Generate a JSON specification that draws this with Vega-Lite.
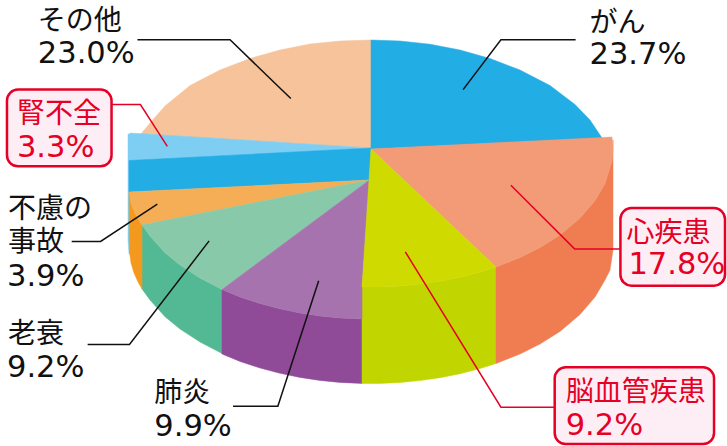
{
"$schema":"https://vega.github.io/schema/vega-lite/v6.json",
"width":727,"height":446,"padding":0,
"autosize":{"type":"fit","contains":"padding"},
"background":"white",
"config":{"view":{"stroke":null}},
"datasets":{
"slices":[
{"name":"腎不全","value":0.033,"pctX":17,"pctY":158,"tone":"highlight"},
{"name":"がん","value":0.237,"pctX":592,"pctY":64,"tone":"normal"},
{"name":"心疾患","value":0.178,"pctX":631,"pctY":275,"tone":"highlight"},
{"name":"脳血管疾患","value":0.092,"pctX":568,"pctY":437,"tone":"highlight"},
{"name":"肺炎","value":0.099,"pctX":155,"pctY":438,"tone":"normal"},
{"name":"老衰","value":0.092,"pctX":7,"pctY":379,"tone":"normal"},
{"name":"不慮の事故","value":0.039,"pctX":7,"pctY":287,"tone":"normal"},
{"name":"その他","value":0.23,"pctX":38,"pctY":63,"tone":"normal"}
],
"names":[
{"name":"腎不全","x":17,"y":124,"tone":"highlight"},
{"name":"がん","x":592,"y":32,"tone":"normal"},
{"name":"心疾患","x":629,"y":243,"tone":"highlight"},
{"name":"脳血管疾患","x":568,"y":403,"tone":"highlight"},
{"name":"肺炎","x":155,"y":404,"tone":"normal"},
{"name":"老衰","x":8,"y":345,"tone":"normal"},
{"name":"不慮の","x":8,"y":219,"tone":"normal"},
{"name":"事故","x":8,"y":252,"tone":"normal"},
{"name":"その他","x":38,"y":30,"tone":"normal"}
],
"boxes":[
{"name":"腎不全","x":7,"x2":112,"y":90,"y2":167},
{"name":"心疾患","x":623,"x2":728,"y":209,"y2":287},
{"name":"脳血管疾患","x":557,"x2":717,"y":369,"y2":446}
],
"leaders":[
{"name":"その他","i":0,"x":138,"y":40,"tone":"normal"},{"name":"その他","i":1,"x":231,"y":40,"tone":"normal"},{"name":"その他","i":2,"x":292,"y":99,"tone":"normal"},
{"name":"がん","i":0,"x":578,"y":40,"tone":"normal"},{"name":"がん","i":1,"x":503,"y":40,"tone":"normal"},{"name":"がん","i":2,"x":465,"y":90,"tone":"normal"},
{"name":"腎不全","i":0,"x":112,"y":105,"tone":"highlight"},{"name":"腎不全","i":1,"x":141,"y":105,"tone":"highlight"},{"name":"腎不全","i":2,"x":168,"y":147,"tone":"highlight"},
{"name":"不慮の事故","i":0,"x":72,"y":242.5,"tone":"normal"},{"name":"不慮の事故","i":1,"x":101,"y":242.5,"tone":"normal"},{"name":"不慮の事故","i":2,"x":158,"y":205,"tone":"normal"},
{"name":"老衰","i":0,"x":88,"y":346,"tone":"normal"},{"name":"老衰","i":1,"x":130,"y":346,"tone":"normal"},{"name":"老衰","i":2,"x":210,"y":242,"tone":"normal"},
{"name":"肺炎","i":0,"x":234,"y":408,"tone":"normal"},{"name":"肺炎","i":1,"x":279,"y":408,"tone":"normal"},{"name":"肺炎","i":2,"x":320,"y":282,"tone":"normal"},
{"name":"心疾患","i":0,"x":623,"y":250,"tone":"highlight"},{"name":"心疾患","i":1,"x":577,"y":250,"tone":"highlight"},{"name":"心疾患","i":2,"x":513,"y":186,"tone":"highlight"},
{"name":"脳血管疾患","i":0,"x":557,"y":409,"tone":"highlight"},{"name":"脳血管疾患","i":1,"x":503,"y":409,"tone":"highlight"},{"name":"脳血管疾患","i":2,"x":407,"y":253,"tone":"highlight"}
]
},
"layer":[
{"data":{"values":[
{"type":"Feature","properties":{"part":"edge"},"geometry":{"type":"Polygon","coordinates":[[[128,134],[131,134],[132,254],[129,254],[128,240],[128,134]]]}},
{"type":"Feature","properties":{"part":"greenSide"},"geometry":{"type":"Polygon","coordinates":[[[222,289.5],[200,278],[180,265],[165,252.7],[150,236],[142,225],[142,289],[150,300],[165,316.7],[180,329],[200,342],[222,353.5],[222,289.5]]]}},
{"type":"Feature","properties":{"part":"orangeSide"},"geometry":{"type":"Polygon","coordinates":[[[129,192],[131,203],[135,213],[142,225],[142,289],[138,282],[134,273],[131,263],[129.5,252],[129,192]]]}},
{"type":"Feature","properties":{"part":"purpleSide"},"geometry":{"type":"Polygon","coordinates":[[[222,289.5],[240,296.9],[260,303.5],[280,308.8],[300,312.9],[320,315.9],[340,317.9],[362,318.9],[362,383.4],[340,382.4],[320,380.4],[300,377.4],[280,373.3],[260,368],[240,361.4],[222,354],[222,289.5]]]}},
{"type":"Feature","properties":{"part":"yellowSide"},"geometry":{"type":"Polygon","coordinates":[[[362,286.9],[380,286.9],[400,286],[420,284.1],[440,281.2],[460,277.3],[480,272.1],[496,267],[496,363.5],[480,368.6],[460,373.8],[440,377.7],[420,380.6],[400,382.5],[380,383.4],[362,383.4],[362,286.9]]]}},
{"type":"Feature","properties":{"part":"salmonSide"},"geometry":{"type":"Polygon","coordinates":[[[496,267],[520,257.5],[540,247.5],[560,234.9],[580,218],[595,200.5],[605,183.4],[612,160.5],[613,140],[613,250],[610,270],[605,280],[595,297],[580,314.5],[560,331.4],[540,344],[520,354],[496,363.5],[496,267]]]}},
{"type":"Feature","properties":{"part":"peach"},"geometry":{"type":"Polygon","coordinates":[[[371,40],[340,41],[310,44],[280,50],[250,58.5],[220,70],[190,85.6],[165,106],[150,123],[141,134],[371,148],[371,40]]]}},
{"type":"Feature","properties":{"part":"blue"},"geometry":{"type":"Polygon","coordinates":[[[371,40],[400,41],[430,44.2],[460,50],[490,58.5],[520,70],[550,85.6],[575,104.5],[590,120],[602,138],[371,149],[371,40]]]}},
{"type":"Feature","properties":{"part":"salmon"},"geometry":{"type":"Polygon","coordinates":[[[371,149],[612,137],[613,150],[612,160.5],[605,183.4],[595,200.5],[580,218],[560,234.9],[540,247.5],[520,257.5],[496,267],[371,149]]]}},
{"type":"Feature","properties":{"part":"lightBlue"},"geometry":{"type":"Polygon","coordinates":[[[130,133],[371,148],[129,161],[129,145],[130,133]]]}},
{"type":"Feature","properties":{"part":"blue"},"geometry":{"type":"Polygon","coordinates":[[[129,160.5],[371,148],[369.5,180],[129,192],[129,160.5]]]}},
{"type":"Feature","properties":{"part":"orange"},"geometry":{"type":"Polygon","coordinates":[[[129,192],[369.5,180],[142,225],[135,213],[131,203],[129,192]]]}},
{"type":"Feature","properties":{"part":"green"},"geometry":{"type":"Polygon","coordinates":[[[369.5,180],[142,225],[150,236],[165,252.7],[180,265],[200,278],[222,289.5],[369.5,180]]]}},
{"type":"Feature","properties":{"part":"purple"},"geometry":{"type":"Polygon","coordinates":[[[369.5,180],[222,289.5],[240,296.9],[260,303.5],[280,308.8],[300,312.9],[320,315.9],[340,317.9],[362,318.9],[362,287],[369.5,180]]]}},
{"type":"Feature","properties":{"part":"yellow"},"geometry":{"type":"Polygon","coordinates":[[[371,149],[362,287],[380,286.9],[400,286],[420,284.1],[440,281.2],[460,277.3],[480,272.1],[496,267],[371,149]]]}}
]},
"projection":{"type":"identity","scale":1,"translate":[0,0]},
"mark":{"type":"geoshape","strokeWidth":0.5},
"encoding":{
"fill":{"field":"properties.part","type":"nominal","legend":null,"scale":{"domain":["edge","greenSide","orangeSide","purpleSide","yellowSide","salmonSide","peach","blue","salmon","lightBlue","orange","green","purple","yellow"],"range":["#7ecef4","#53b994","#f39a1e","#8f4a98","#c1d500","#f07c52","#f6c39b","#22ade5","#f29b76","#7ecef4","#f5ae55","#88c9a9","#a673ae","#cfdb00"]}},
"stroke":{"field":"properties.part","type":"nominal","legend":null,"scale":{"domain":["edge","greenSide","orangeSide","purpleSide","yellowSide","salmonSide","peach","blue","salmon","lightBlue","orange","green","purple","yellow"],"range":["#7ecef4","#53b994","#f39a1e","#8f4a98","#c1d500","#f07c52","#f6c39b","#22ade5","#f29b76","#7ecef4","#f5ae55","#88c9a9","#a673ae","#cfdb00"]}}
}},
{"data":{"name":"leaders"},
"mark":{"type":"line","strokeWidth":1.5,"strokeJoin":"miter","clip":false},
"encoding":{
"x":{"field":"x","type":"quantitative","axis":null,"scale":{"domain":[0,727],"nice":false,"zero":false}},
"y":{"field":"y","type":"quantitative","axis":null,"scale":{"domain":[446,0],"nice":false,"zero":false}},
"detail":{"field":"name"},
"order":{"field":"i"},
"color":{"field":"tone","type":"nominal","legend":null,"scale":{"domain":["normal","highlight"],"range":["#111111","#e60026"]}}
}},
{"data":{"name":"boxes"},
"mark":{"type":"rect","fill":"#fdeef5","stroke":"#e60026","strokeWidth":2.5,"cornerRadius":11},
"encoding":{
"x":{"field":"x","type":"quantitative"},"x2":{"field":"x2"},
"y":{"field":"y","type":"quantitative"},"y2":{"field":"y2"}
}},
{"data":{"name":"names"},
"mark":{"type":"text","align":"left","baseline":"alphabetic","font":"Noto Sans CJK JP","fontSize":28},
"encoding":{
"x":{"field":"x","type":"quantitative"},
"y":{"field":"y","type":"quantitative"},
"text":{"field":"name"},
"color":{"field":"tone","type":"nominal","legend":null,"scale":{"domain":["normal","highlight"],"range":["#231815","#e60026"]}}
}},
{"data":{"name":"slices"},
"mark":{"type":"text","align":"left","baseline":"alphabetic","font":"DejaVu Sans","fontSize":30.5},
"encoding":{
"x":{"field":"pctX","type":"quantitative"},
"y":{"field":"pctY","type":"quantitative"},
"text":{"field":"value","type":"quantitative","format":".1%"},
"color":{"field":"tone","type":"nominal","legend":null,"scale":{"domain":["normal","highlight"],"range":["#231815","#e60026"]}}
}}
],
"resolve":{"scale":{"color":"shared"}}
}
